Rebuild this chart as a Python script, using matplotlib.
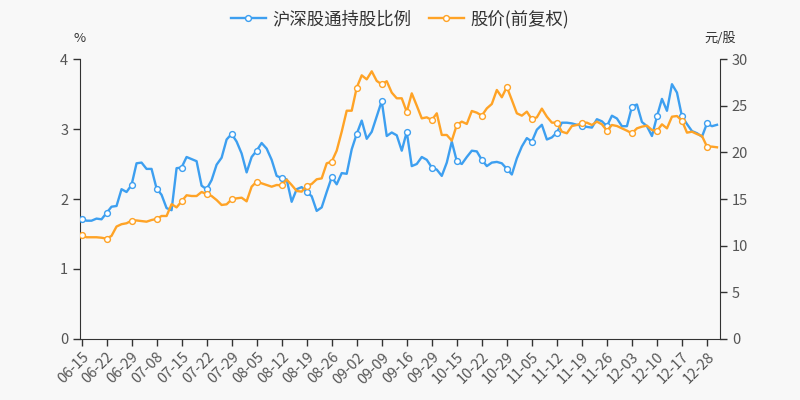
import matplotlib
matplotlib.use("Agg")
import matplotlib.pyplot as plt
import numpy as np

plt.rcParams['font.family'] = ['Noto Sans CJK SC', 'DejaVu Sans']

# tick labels, one every 5 points
tick_labels = ["06-15", "06-22", "06-29", "07-08", "07-15", "07-22", "07-29",
               "08-05", "08-12", "08-19", "08-26", "09-02", "09-09", "09-16",
               "09-29", "10-15", "10-22", "10-29", "11-05", "11-12", "11-19",
               "11-26", "12-03", "12-10", "12-17", "12-28"]

# 沪深股通持股比例 (%)
hold_ratio = [
    1.72, 1.69, 1.69, 1.72, 1.71, 1.80, 1.89, 1.90, 2.14, 2.10,
    2.20, 2.51, 2.52, 2.43, 2.43, 2.15, 2.06, 1.87, 1.84, 2.44,
    2.45, 2.60, 2.57, 2.54, 2.19, 2.14, 2.27, 2.49, 2.59, 2.85,
    2.93, 2.82, 2.65, 2.38, 2.60, 2.69, 2.80, 2.72, 2.56, 2.33,
    2.30, 2.28, 1.96, 2.14, 2.17, 2.10, 2.04, 1.83, 1.88, 2.10,
    2.31, 2.21, 2.37, 2.36, 2.71, 2.93, 3.12, 2.86, 2.96, 3.18,
    3.40, 2.90, 2.95, 2.91, 2.69, 2.96, 2.47, 2.50, 2.60, 2.56,
    2.45, 2.42, 2.33, 2.52, 2.82, 2.54, 2.50, 2.60, 2.69, 2.68,
    2.56, 2.47, 2.52, 2.53, 2.51, 2.43, 2.35, 2.58, 2.75, 2.87,
    2.82, 2.99, 3.06, 2.85, 2.88, 2.95, 3.09, 3.09, 3.08, 3.06,
    3.05, 3.03, 3.02, 3.14, 3.11, 3.04, 3.19, 3.15, 3.04, 3.04,
    3.32, 3.35, 3.10, 3.04, 2.90, 3.18, 3.43, 3.26, 3.64, 3.52,
    3.18, 3.07, 2.97, 2.94, 2.89, 3.08, 3.04, 3.06,
]

# 股价(前复权) (元/股)
price = [
    11.10, 10.90, 10.90, 10.90, 10.85, 10.75, 11.05, 12.05, 12.30, 12.40,
    12.68, 12.70, 12.64, 12.57, 12.75, 12.86, 13.18, 13.18, 14.45, 14.10,
    14.75, 15.40, 15.32, 15.32, 15.75, 15.54, 15.32, 14.89, 14.36, 14.43,
    14.96, 15.07, 15.14, 14.75, 16.32, 16.86, 16.68, 16.50, 16.32, 16.50,
    16.46, 17.08, 16.50, 15.86, 15.79, 16.39, 16.61, 17.11, 17.21, 18.82,
    19.00, 20.18, 22.21, 24.46, 24.46, 26.93, 28.25, 27.82, 28.68, 27.65,
    27.29, 27.62, 26.40, 25.79, 25.79, 24.33, 26.32, 25.00, 23.64, 23.75,
    23.46, 24.18, 21.86, 21.86, 21.25, 22.93, 23.29, 23.04, 24.43, 24.25,
    23.93, 24.71, 25.18, 26.68, 25.90, 27.00, 25.61, 24.18, 23.93, 24.36,
    23.54, 23.75, 24.68, 23.82, 23.18, 23.18, 22.21, 22.04, 22.82, 22.93,
    23.11, 23.18, 22.93, 23.29, 23.00, 22.32, 22.93, 22.82, 22.57, 22.32,
    22.04, 22.57, 22.75, 22.86, 22.39, 22.29, 23.00, 22.57, 23.82, 23.89,
    23.39, 22.11, 22.21, 21.96, 21.75, 20.61, 20.61, 20.54,
]

blue = "#3d9ff0"
orange = "#ffa326"
axis_col = "#333333"
text_col = "#555555"

x = np.arange(len(hold_ratio))

fig = plt.figure(figsize=(8, 4), dpi=100, facecolor="#f8f8f8")
ax = fig.add_axes([0.1, 0.1525, 0.8, 0.70])
ax.set_facecolor("#f8f8f8")
ax2 = ax.twinx()

l1, = ax.plot(x, hold_ratio, color=blue, lw=1.7, marker="o", markevery=5,
              markersize=4.2, markerfacecolor="white", markeredgecolor=blue,
              markeredgewidth=1, label="沪深股通持股比例", zorder=3)
l2, = ax2.plot(x, price, color=orange, lw=1.7, marker="o", markevery=5,
               markersize=4.2, markerfacecolor="white", markeredgecolor=orange,
               markeredgewidth=1, label="股价(前复权)", zorder=2)

ax.set_xlim(-0.3, len(x) - 0.4)
ax.set_ylim(0, 4)
ax2.set_ylim(0, 30)
ax.set_yticks([0, 1, 2, 3, 4])
ax2.set_yticks([0, 5, 10, 15, 20, 25, 30])

ax.set_xticks(np.arange(0, len(x), 5))
ax.set_xticklabels(tick_labels, rotation=45, ha="right", va="top",
                   rotation_mode="anchor")

for a in (ax, ax2):
    a.spines["top"].set_visible(False)
    for s in ("left", "right", "bottom"):
        a.spines[s].set_color(axis_col)
    a.tick_params(colors=axis_col, labelcolor=text_col, labelsize=10.5,
                  length=5, width=1)
ax.tick_params(axis="x", labelsize=10.5, pad=3)
ax.spines["right"].set_visible(False)
ax2.spines["left"].set_visible(False)
ax2.spines["bottom"].set_visible(False)

fig.text(0.1, 0.905, "%", ha="center", va="center", fontsize=9.5,
         color=axis_col)
fig.text(0.9, 0.905, "元/股", ha="center", va="center", fontsize=9.5,
         color=axis_col)

fig.legend(handles=[l1, l2], loc="upper center", bbox_to_anchor=(0.5, 1.015),
           ncol=2, frameon=False, fontsize=12.5, handlelength=2.0,
           handletextpad=0.4, columnspacing=1.0, labelcolor="#333333")

fig.savefig("out.png", dpi=100, facecolor=fig.get_facecolor())
